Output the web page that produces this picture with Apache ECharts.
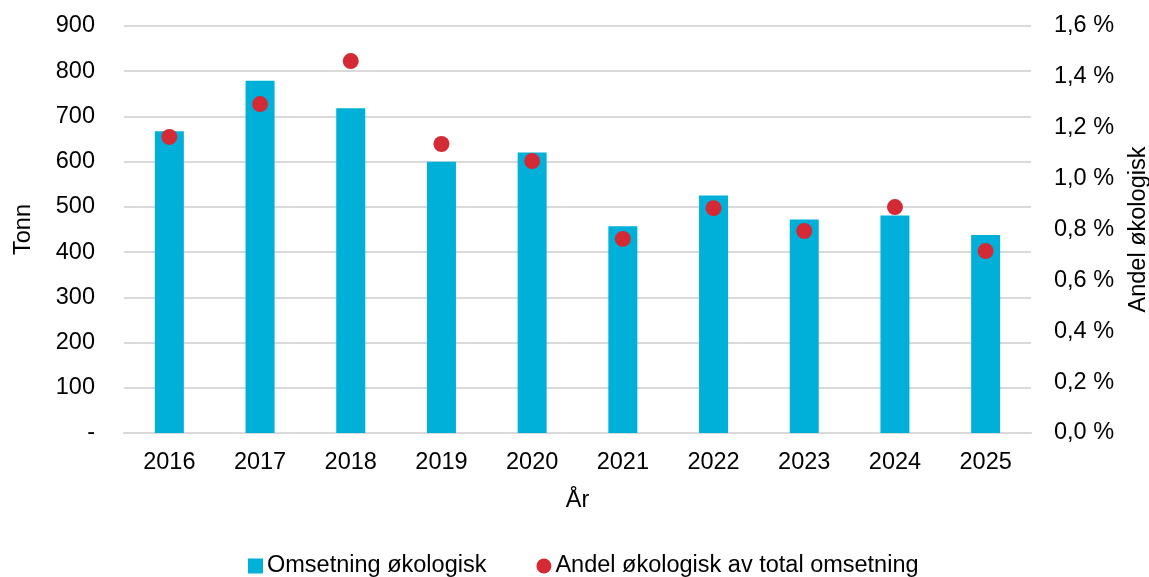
<!DOCTYPE html>
<html>
<head>
<meta charset="utf-8">
<script src="https://cdn.jsdelivr.net/npm/echarts@6/dist/echarts.min.js"></script>
<style>
  html, body { margin: 0; padding: 0; background: #fff; }
  #chart { width: 1149px; height: 577px; }
</style>
</head>
<body>
<div id="chart"></div>
<script>
// data
var years = ['2016', '2017', '2018', '2019', '2020', '2021', '2022', '2023', '2024', '2025'];
var tonn = [667, 779, 718, 600, 620, 457, 525, 472, 481, 438];
var andel = [1.164, 1.293, 1.462, 1.136, 1.069, 0.763, 0.884, 0.794, 0.888, 0.715];

var font = 'Liberation Sans, Arial, sans-serif';
var fs = 23.5;
var chart = echarts.init(document.getElementById('chart'));

chart.setOption({
    animation: false,
    textStyle: {fontFamily: font},
    grid: {left: 124, right: 118, top: 26, bottom: 144, containLabel: false, outerBoundsMode: 'none'},
    legend: {
        bottom: -6,
        left: 243,
        itemGap: 50,
        itemWidth: 15,
        itemHeight: 15,
        textStyle: {fontFamily: font, fontSize: fs, color: '#000', padding: [0, 0, 0, -1]},
        data: [
            {name: 'Omsetning økologisk', icon: 'rect'},
            {name: 'Andel økologisk av total omsetning', icon: 'circle'}
        ]
    },
    xAxis: {
        type: 'category',
        data: years,
        name: 'År',
        nameLocation: 'middle',
        nameGap: 56,
        nameTextStyle: {fontSize: fs, color: '#000', fontFamily: font},
        axisLine: {lineStyle: {color: '#d9d9d9', width: 2}},
        axisTick: {show: false},
        axisLabel: {fontSize: fs, color: '#000', margin: 18}
    },
    yAxis: [{
        type: 'value',
        min: 0, max: 900, interval: 100,
        name: 'Tonn',
        nameLocation: 'middle',
        nameGap: 88,
        nameTextStyle: {fontSize: fs, color: '#000', fontFamily: font},
        axisLabel: {
            fontSize: fs, color: '#000', margin: 29,
            formatter: function (v) { return v === 0 ? '-' : v; }
        },
        splitLine: {lineStyle: {color: '#d9d9d9', width: 2}}
    }, {
        type: 'value',
        min: 0, max: 1.6, interval: 0.2,
        name: 'Andel økologisk',
        nameLocation: 'middle',
        nameGap: 96,
        nameRotate: 90,
        nameTextStyle: {fontSize: fs, color: '#000', fontFamily: font},
        axisLabel: {
            fontSize: fs, color: '#000', margin: 23,
            formatter: function (v) { return v.toFixed(1).replace('.', ',') + ' %'; }
        },
        splitLine: {show: false}
    }],
    series: [{
        name: 'Omsetning økologisk',
        type: 'bar',
        data: tonn,
        barWidth: 29,
        itemStyle: {color: '#00b0d8'}
    }, {
        name: 'Andel økologisk av total omsetning',
        type: 'scatter',
        yAxisIndex: 1,
        data: andel,
        symbolSize: 16,
        itemStyle: {color: '#d42a35', opacity: 1}
    }]
});
</script>
</body>
</html>
